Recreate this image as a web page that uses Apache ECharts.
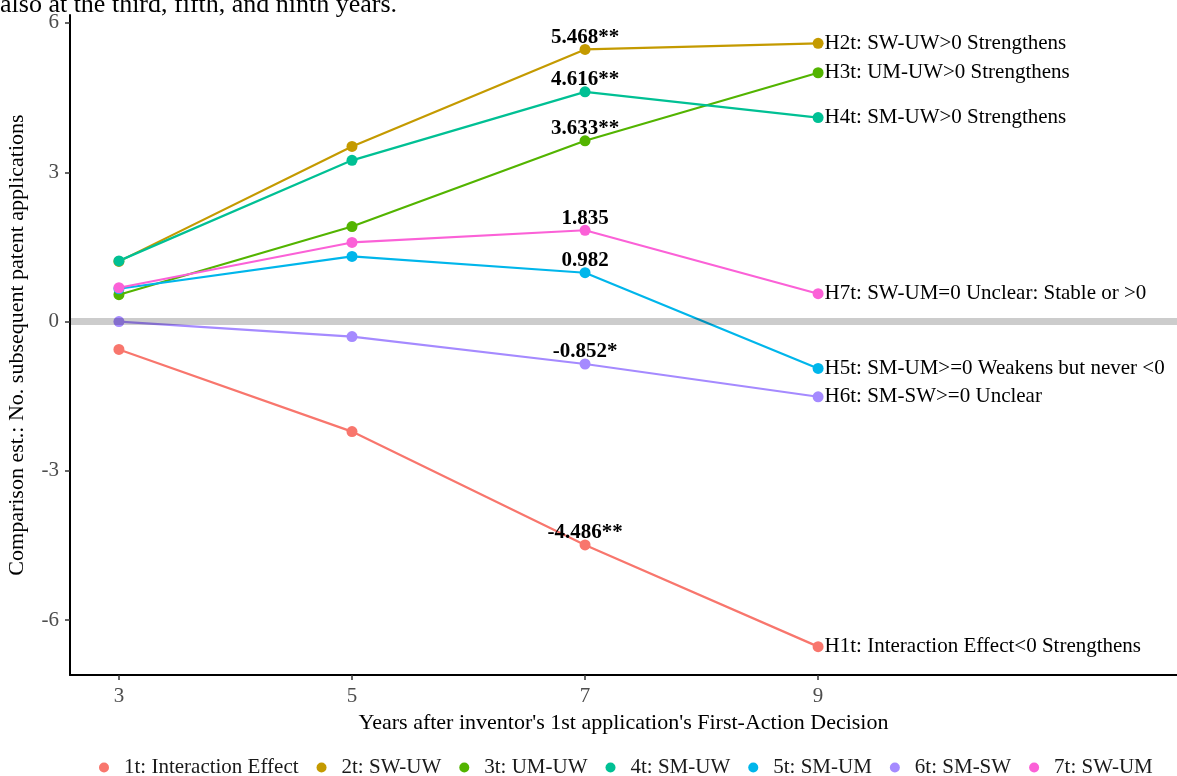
<!DOCTYPE html>
<html>
<head>
<meta charset="utf-8">
<script src="https://cdn.jsdelivr.net/npm/echarts@6/dist/echarts.min.js"></script>
<style>
  html, body { margin: 0; padding: 0; background: #fff; }
  #chart { width: 1177px; height: 776px; }
</style>
</head>
<body>
<div id="chart"></div>
<script>
// data
const years = [3, 5, 7, 9];
const seriesNames = ['1t: Interaction Effect', '2t: SW-UW', '3t: UM-UW', '4t: SM-UW', '5t: SM-UM', '6t: SM-SW', '7t: SW-UM'];
const s1 = [-0.56, -2.21, -4.486, -6.53];
const s2 = [1.21, 3.52, 5.468, 5.59];
const s3 = [0.54, 1.91, 3.633, 5.0];
const s4 = [1.22, 3.24, 4.616, 4.10];
const s5 = [0.66, 1.31, 0.982, -0.94];
const s6 = [0.0, -0.30, -0.852, -1.51];
const s7 = [0.68, 1.59, 1.835, 0.56];
const midLabels = ['-4.486**', '5.468**', '3.633**', '4.616**', '0.982', '-0.852*', '1.835'];
const endLabels = [
  'H1t: Interaction Effect<0 Strengthens',
  'H2t: SW-UW>0 Strengthens',
  'H3t: UM-UW>0 Strengthens',
  'H4t: SM-UW>0 Strengthens',
  'H5t: SM-UM>=0 Weakens but never <0',
  'H6t: SM-SW>=0 Unclear',
  'H7t: SW-UM=0 Unclear: Stable or >0'
];
const yTicks = [-6, -3, 0, 3, 6];
const colors = ['#F8766D', '#C49A00', '#53B400', '#00C094', '#00B6EB', '#A58AFF', '#FB61D7'];

const allValues = [s1, s2, s3, s4, s5, s6, s7];
const font = '"Liberation Serif", "Times New Roman", serif';

let chart = echarts.init(document.getElementById('chart'));

let series = allValues.map((vals, i) => ({
  name: seriesNames[i],
  type: 'line',
  symbol: 'circle',
  symbolSize: 11,
  z: 2,
  lineStyle: { width: 2.2, color: colors[i] },
  itemStyle: { color: colors[i] },
  data: vals.map((v, j) => {
    let item = { value: [years[j], v] };
    if (j === 2) {
      item.label = {
        show: true, position: 'top', distance: -4,
        formatter: midLabels[i],
        fontFamily: font, fontWeight: 'bold', fontSize: 21, color: '#000'
      };
    }
    if (j === 3) {
      item.label = {
        show: true, position: 'right', distance: 1,
        formatter: endLabels[i],
        fontFamily: font, fontSize: 21, color: '#000'
      };
    }
    return item;
  })
}));

// grey zero reference line (drawn over the lines, semi transparent)
series.push({
  type: 'line',
  data: [],
  z: 5,
  silent: true,
  markLine: {
    silent: true,
    symbol: 'none',
    label: { show: false },
    lineStyle: { color: 'rgba(0,0,0,0.2)', width: 7, type: 'solid' },
    data: [{ yAxis: 0 }]
  }
});

let option = {
  backgroundColor: '#fff',
  animation: false,
  color: colors,
  textStyle: { fontFamily: font },
  graphic: [{
    type: 'text',
    left: 0,
    top: -8,
    style: { text: 'also at the third, fifth, and ninth years.', font: '26px ' + font, fill: '#000' }
  }],
  grid: { left: 70, right: 0, top: 15, bottom: 101, containLabel: false, outerBoundsMode: 'none' },
  legend: {
    data: seriesNames,
    top: 757,
    left: 99,
    padding: 0,
    icon: 'circle',
    itemWidth: 10,
    itemHeight: 10,
    itemGap: 18,
    textStyle: { fontFamily: font, fontSize: 21, color: '#1a1a1a', padding: [0, 0, 0, 10] }
  },
  xAxis: {
    type: 'value',
    min: 2.58,
    max: 12.08,
    name: "Years after inventor's 1st application's First-Action Decision",
    nameLocation: 'middle',
    nameGap: 36,
    nameTextStyle: { fontFamily: font, fontSize: 22, color: '#000' },
    axisLine: { show: true, onZero: false, lineStyle: { color: '#000', width: 2 } },
    axisTick: { show: true, length: 5, customValues: years, lineStyle: { color: '#333', width: 1.5 } },
    axisLabel: { customValues: years, margin: 11, fontFamily: font, fontSize: 21, color: '#4D4D4D' },
    splitLine: { show: false }
  },
  yAxis: {
    type: 'value',
    min: -7.1,
    max: 6.16,
    name: 'Comparison est.: No. subsequent patent applications',
    nameLocation: 'middle',
    nameGap: 42,
    nameTextStyle: { fontFamily: font, fontSize: 22, color: '#000' },
    axisLine: { show: true, onZero: false, lineStyle: { color: '#000', width: 2 } },
    axisTick: { show: true, length: 5, customValues: yTicks, lineStyle: { color: '#333', width: 1.5 } },
    axisLabel: { customValues: yTicks, margin: 11, fontFamily: font, fontSize: 21, color: '#4D4D4D' },
    splitLine: { show: false }
  },
  series: series
};

chart.setOption(option);
</script>
</body>
</html>
